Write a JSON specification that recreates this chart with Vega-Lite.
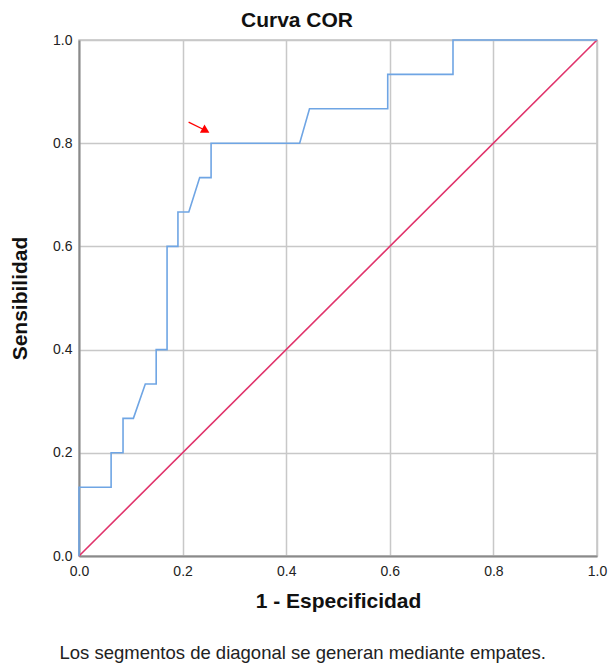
{
  "$schema": "https://vega.github.io/schema/vega-lite/v6.json",
  "width": 518,
  "height": 516,
  "autosize": {"type": "none"},
  "padding": {"left": 79, "top": 40, "right": 11, "bottom": 111},
  "background": "white",
  "title": {
    "text": "Curva COR",
    "font": "Liberation Sans",
    "fontSize": 21,
    "fontWeight": "bold",
    "color": "#111111",
    "anchor": "middle",
    "frame": "group",
    "baseline": "alphabetic",
    "offset": -15,
    "dx": -41
  },
  "config": {
    "view": {"stroke": "#c4c4c4", "strokeWidth": 1.5},
    "axis": {
      "labelFont": "Liberation Sans",
      "labelFontSize": 14,
      "labelColor": "#222222",
      "labelFlush": false,
      "titleFont": "Liberation Sans",
      "titleFontSize": 21,
      "titleFontWeight": "bold",
      "titleColor": "#111111",
      "gridColor": "#c8c8c8",
      "gridWidth": 1.5,
      "gridOpacity": 1,
      "domainColor": "#8a8a8a",
      "domainWidth": 2,
      "ticks": false
    }
  },
  "datasets": {
    "roc": [
      {"orden": 1, "fpr": 0, "sens": 0},
      {"orden": 2, "fpr": 0, "sens": 0.1333},
      {"orden": 3, "fpr": 0.062, "sens": 0.1333},
      {"orden": 4, "fpr": 0.062, "sens": 0.2},
      {"orden": 5, "fpr": 0.085, "sens": 0.2},
      {"orden": 6, "fpr": 0.085, "sens": 0.2667},
      {"orden": 7, "fpr": 0.105, "sens": 0.2667},
      {"orden": 8, "fpr": 0.128, "sens": 0.3333},
      {"orden": 9, "fpr": 0.149, "sens": 0.3333},
      {"orden": 10, "fpr": 0.149, "sens": 0.4},
      {"orden": 11, "fpr": 0.17, "sens": 0.4},
      {"orden": 12, "fpr": 0.17, "sens": 0.6},
      {"orden": 13, "fpr": 0.191, "sens": 0.6},
      {"orden": 14, "fpr": 0.191, "sens": 0.6667},
      {"orden": 15, "fpr": 0.212, "sens": 0.6667},
      {"orden": 16, "fpr": 0.233, "sens": 0.7333},
      {"orden": 17, "fpr": 0.255, "sens": 0.7333},
      {"orden": 18, "fpr": 0.255, "sens": 0.8},
      {"orden": 19, "fpr": 0.426, "sens": 0.8},
      {"orden": 20, "fpr": 0.445, "sens": 0.8667},
      {"orden": 21, "fpr": 0.596, "sens": 0.8667},
      {"orden": 22, "fpr": 0.596, "sens": 0.9333},
      {"orden": 23, "fpr": 0.722, "sens": 0.9333},
      {"orden": 24, "fpr": 0.722, "sens": 1},
      {"orden": 25, "fpr": 1, "sens": 1}
    ],
    "diagonal": [
      {"orden": 1, "fpr": 0, "sens": 0},
      {"orden": 2, "fpr": 1, "sens": 1}
    ],
    "flecha": [
      {"x0": 0.2116, "y0": 0.841, "x1": 0.2425, "y1": 0.8256}
    ]
  },
  "layer": [
    {
      "data": {"name": "diagonal"},
      "mark": {"type": "line", "color": "#e0336b", "strokeWidth": 1.6},
      "encoding": {
        "x": {
          "field": "fpr", "type": "quantitative",
          "scale": {"domain": [0, 1], "nice": false},
          "axis": {"title": "1 - Especificidad", "values": [0, 0.2, 0.4, 0.6, 0.8, 1], "format": ".1f", "labelPadding": 8, "titlePadding": 12}
        },
        "y": {
          "field": "sens", "type": "quantitative",
          "scale": {"domain": [0, 1], "nice": false},
          "axis": {"title": "Sensibilidad", "values": [0, 0.2, 0.4, 0.6, 0.8, 1], "format": ".1f", "labelPadding": 7, "titlePadding": 22}
        },
        "order": {"field": "orden"}
      }
    },
    {
      "data": {"name": "roc"},
      "mark": {"type": "line", "color": "#6fa5e4", "strokeWidth": 1.6},
      "encoding": {
        "x": {"field": "fpr", "type": "quantitative"},
        "y": {"field": "sens", "type": "quantitative"},
        "order": {"field": "orden"}
      }
    },
    {
      "data": {"name": "flecha"},
      "mark": {"type": "rule", "color": "#ff0000", "strokeWidth": 1.3},
      "encoding": {
        "x": {"field": "x0", "type": "quantitative"},
        "y": {"field": "y0", "type": "quantitative"},
        "x2": {"field": "x1"},
        "y2": {"field": "y1"}
      }
    },
    {
      "data": {"name": "flecha"},
      "mark": {"type": "point", "shape": "triangle", "filled": true, "color": "#ff0000", "opacity": 1, "size": 90, "angle": 119},
      "encoding": {
        "x": {"field": "x1", "type": "quantitative"},
        "y": {"field": "y1", "type": "quantitative"}
      }
    },
    {
      "data": {"values": [{}]},
      "mark": {"type": "text", "text": "Los segmentos de diagonal se generan mediante empates.", "font": "Liberation Sans", "fontSize": 18.5, "color": "#222222", "align": "center", "baseline": "alphabetic"},
      "encoding": {
        "x": {"datum": 0.432, "type": "quantitative"},
        "y": {"datum": -0.2, "type": "quantitative"}
      }
    }
  ]
}
